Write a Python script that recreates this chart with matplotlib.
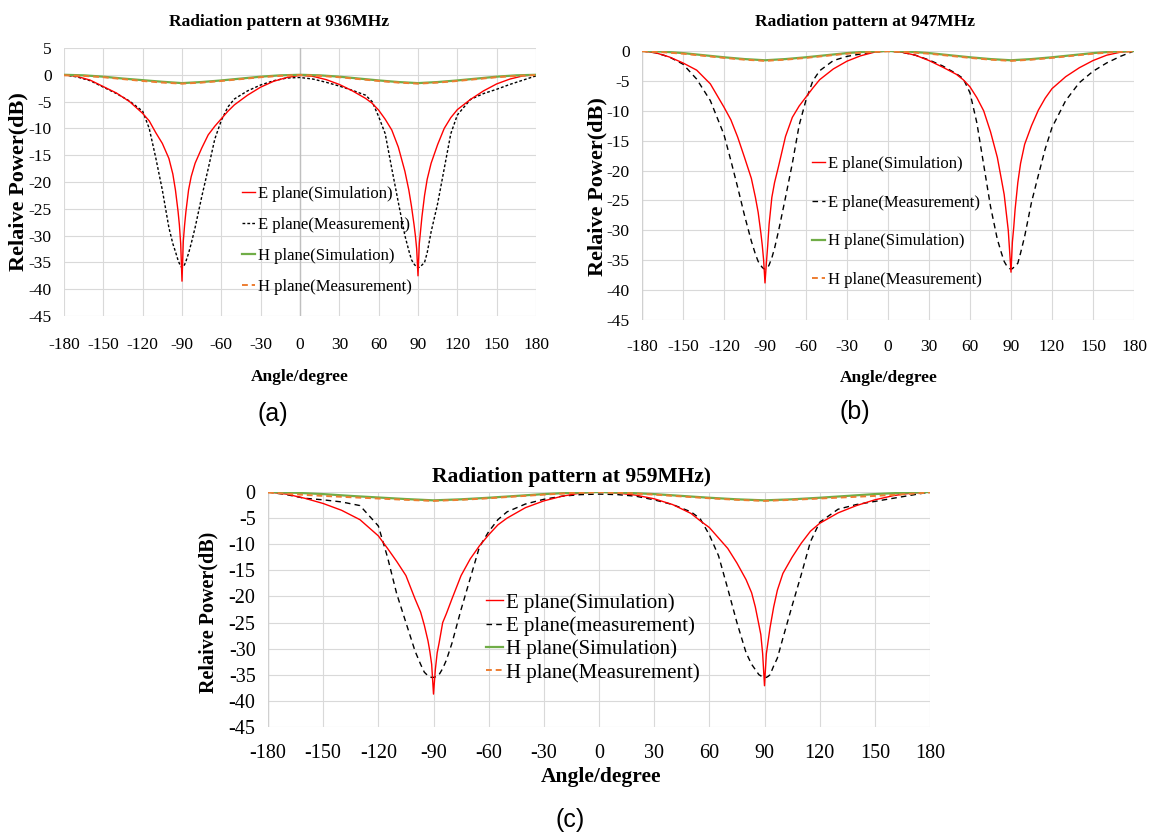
import matplotlib
matplotlib.use("Agg")
import matplotlib.pyplot as plt

plt.rcParams["axes.unicode_minus"] = False
plt.rcParams["font.family"] = ["Liberation Serif", "DejaVu Serif"]

# ---------------------------------------------------------------- data
ANGLES_E = [-180, -170, -160, -150, -140, -130, -120, -115, -110, -105, -100,
            -97, -95, -93, -92, -91, -90, -89, -88, -87, -85, -83, -80, -75,
            -70, -65, -60, -55, -50, -40, -30, -20, -10, 0, 10, 20, 30, 40,
            50, 55, 60, 65, 70, 75, 80, 83, 85, 87, 88, 89, 90, 91, 92, 93,
            95, 97, 100, 105, 110, 115, 120, 130, 140, 150, 160, 170, 180]

ANGLES_H = [-180, -165, -150, -135, -120, -105, -90, -75, -60, -45, -30, -15,
            0, 15, 30, 45, 60, 75, 90, 105, 120, 135, 150, 165, 180]

# 936 MHz
E_SIM_936 = [0, -0.3, -1.0, -2.2, -3.4, -5.0, -7.2, -8.6, -10.8, -12.8, -15.6,
             -18.5, -21.5, -25.5, -28.0, -31.5, -38.5, -31.0, -28.0, -25.5,
             -21.5, -19.0, -16.5, -13.7, -11.2, -9.6, -8.2, -6.8, -5.6, -3.8,
             -2.3, -1.2, -0.5, -0.1, -0.3, -0.9, -1.8, -3.0, -4.4, -5.3, -6.6,
             -8.3, -10.3, -13.5, -18.0, -21.5, -24.5, -28.0, -30.0, -32.5,
             -37.5, -31.5, -29.0, -26.5, -22.5, -19.5, -16.5, -13.0, -10.0,
             -8.0, -6.5, -4.6, -3.0, -1.7, -0.8, -0.2, 0]
E_MEAS_936 = [0, -0.4, -1.1, -2.3, -3.5, -4.9, -6.8, -10.0, -15.5, -21.5,
              -28.5, -31.5, -33.0, -34.6, -35.2, -35.7, -36.0, -35.8, -35.4,
              -34.8, -33.3, -31.5, -28.5, -22.8, -17.5, -12.0, -8.5, -6.0,
              -4.5, -3.0, -1.9, -1.1, -0.6, -0.5, -0.8, -1.4, -2.1, -2.9,
              -3.8, -5.0, -7.8, -11.0, -17.5, -23.8, -30.0, -32.8, -34.5,
              -35.3, -35.6, -35.9, -36.0, -35.9, -35.7, -35.5, -35.0, -33.2,
              -29.3, -24.0, -17.5, -11.0, -7.5, -4.6, -3.5, -2.7, -1.8, -1.0,
              -0.2]
H_SIM_936 = [0, -0.1, -0.35, -0.7, -1.0, -1.3, -1.55, -1.35, -1.05, -0.7,
             -0.35, -0.1, 0.0, -0.1, -0.35, -0.7, -1.05, -1.35, -1.55, -1.35,
             -1.05, -0.7, -0.35, -0.1, 0.0]
H_MEAS_936 = [-0.1, -0.2, -0.45, -0.8, -1.15, -1.45, -1.65, -1.45, -1.15,
              -0.8, -0.45, -0.2, -0.05, -0.2, -0.45, -0.8, -1.15, -1.45,
              -1.65, -1.45, -1.15, -0.8, -0.45, -0.2, -0.05]

# 947 MHz
E_SIM_947 = [0, -0.3, -1.0, -2.0, -3.2, -5.5, -9.4, -11.5, -14.4, -17.8,
             -21.3, -24.5, -27.0, -30.5, -32.5, -35.0, -38.8, -35.5, -32.5,
             -29.0, -24.5, -22.0, -19.2, -14.3, -11.1, -9.2, -7.7, -6.2, -4.8,
             -3.0, -1.7, -0.8, -0.2, 0.0, -0.2, -0.7, -1.6, -2.7, -3.9, -4.8,
             -6.0, -7.8, -10.0, -13.5, -17.8, -21.5, -24.0, -28.0, -30.0,
             -33.5, -37.0, -32.0, -29.5, -26.5, -22.0, -18.8, -15.6, -12.5,
             -9.9, -7.9, -6.3, -4.3, -2.8, -1.6, -0.7, -0.2, 0]
E_MEAS_947 = [0, -0.3, -1.0, -2.2, -4.7, -8.3, -14.0, -18.3, -22.8, -27.5,
              -31.8, -34.0, -35.2, -35.9, -36.2, -36.4, -36.5, -36.4, -36.2,
              -35.8, -34.6, -33.0, -30.0, -24.5, -18.8, -12.4, -8.2, -5.0,
              -3.3, -1.6, -0.9, -0.5, -0.2, 0.0, -0.2, -0.7, -1.5, -2.5, -3.8,
              -4.6, -7.0, -12.0, -19.0, -26.0, -31.5, -33.8, -35.2, -36.0,
              -36.2, -36.4, -36.5, -36.4, -36.2, -36.0, -35.5, -33.8, -31.0,
              -25.3, -20.8, -16.4, -12.8, -8.3, -5.3, -3.4, -2.0, -0.9, 0]
H_SIM_947 = [0, -0.1, -0.35, -0.7, -1.05, -1.35, -1.55, -1.35, -1.05, -0.7,
             -0.35, -0.1, 0.0, -0.1, -0.35, -0.7, -1.05, -1.35, -1.55, -1.35,
             -1.05, -0.7, -0.35, -0.1, 0.0]
H_MEAS_947 = [-0.05, -0.2, -0.45, -0.8, -1.15, -1.45, -1.65, -1.45, -1.15,
              -0.8, -0.45, -0.2, -0.05, -0.2, -0.45, -0.8, -1.15, -1.45,
              -1.65, -1.45, -1.15, -0.8, -0.45, -0.2, -0.05]

# 959 MHz
E_SIM_959 = [0, -0.4, -1.2, -2.2, -3.5, -5.3, -8.4, -10.8, -13.3, -16.0,
             -20.5, -23.0, -25.5, -28.5, -30.5, -33.0, -38.7, -34.0, -30.8,
             -29.0, -25.0, -23.3, -20.5, -16.0, -12.8, -10.3, -8.2, -6.3,
             -5.0, -3.0, -1.7, -0.8, -0.2, 0.0, -0.2, -0.6, -1.3, -2.4, -4.1,
             -5.5, -6.8, -8.8, -10.8, -13.6, -16.8, -19.3, -22.0, -25.5,
             -27.3, -31.0, -37.1, -31.0, -28.5, -26.0, -22.0, -18.8, -15.6,
             -12.5, -9.8, -7.5, -6.0, -4.0, -2.6, -1.5, -0.7, -0.2, 0]
E_MEAS_959 = [0, -0.5, -1.2, -1.5, -1.9, -2.6, -6.5, -12.5, -19.5, -25.0,
              -30.5, -33.0, -34.5, -35.2, -35.4, -35.5, -35.5, -35.4, -35.2,
              -35.0, -33.8, -32.2, -29.0, -22.5, -16.5, -10.5, -7.6, -5.3,
              -3.8, -2.3, -1.4, -0.8, -0.5, -0.4, -0.5, -0.8, -1.5, -2.4,
              -3.8, -5.1, -8.2, -12.2, -18.5, -25.0, -30.8, -33.0, -34.0,
              -35.0, -35.2, -35.4, -35.5, -35.5, -35.3, -35.0, -33.3, -31.8,
              -28.0, -21.8, -15.8, -9.5, -5.8, -3.3, -2.4, -1.8, -1.2, -0.6, 0]
H_SIM_959 = [0, -0.15, -0.4, -0.75, -1.05, -1.35, -1.6, -1.4, -1.1, -0.75,
             -0.4, -0.15, 0.0, -0.15, -0.4, -0.75, -1.1, -1.4, -1.6, -1.4,
             -1.1, -0.75, -0.4, -0.15, 0.0]
H_MEAS_959 = [-0.1, -0.45, -0.75, -1.0, -1.25, -1.5, -1.7, -1.5, -1.2, -0.85,
              -0.5, -0.2, -0.05, -0.2, -0.5, -0.85, -1.2, -1.5, -1.7, -1.5,
              -1.25, -1.0, -0.75, -0.45, -0.1]

X_TICKS = list(range(-180, 181, 30))
LEGEND_LABELS_AB = ["E plane(Simulation)", "E plane(Measurement)",
                    "H plane(Simulation)", "H plane(Measurement)"]
LEGEND_LABELS_C = ["E plane(Simulation)", "E plane(measurement)",
                   "H plane(Simulation)", "H plane(Measurement)"]

# ---------------------------------------------------------------- figure
W, H = 1154, 834
fig = plt.figure(figsize=(W / 100, H / 100), dpi=100)
fig.patch.set_facecolor("white")

SERIF = ["Liberation Serif", "DejaVu Serif"]
SANS = ["Liberation Sans", "DejaVu Sans"]
GRID = "#d9d9d9"


def fx(px):
    return px / W


def fy(py):
    return 1 - py / H


def make_panel(box, ylim, yticks, e_sim, e_meas, h_sim, h_meas, labels,
               meas_dash, title, title_xy, xlabel_xy, ylabel_xy, letter,
               letter_xy, leg_xy, leg_spacing, xpad, zero_axis, sizes):
    tick_fs, title_fs, xlab_fs, ylab_fs, leg_fs = sizes
    x0, x1, ytop, ybot = box
    ax = fig.add_axes([fx(x0), fy(ybot), (x1 - x0) / W, (ybot - ytop) / H])
    ax.set_xlim(-180, 180)
    ax.set_ylim(*ylim)
    ax.set_xticks(X_TICKS)
    ax.set_yticks(yticks)
    ax.set_xticklabels([str(t) for t in X_TICKS], family=SERIF,
                       fontsize=tick_fs)
    ax.set_yticklabels([str(t) for t in yticks], family=SERIF,
                       fontsize=tick_fs)
    ax.tick_params(length=0)
    ax.tick_params(axis="x", pad=xpad)
    ax.tick_params(axis="y", pad=9)
    for s in ax.spines.values():
        s.set_visible(False)
    ax.grid(True, color=GRID, lw=0.8)
    ax.set_axisbelow(True)
    if zero_axis:
        ax.axvline(0, color="#bfbfbf", lw=1.0, zorder=1)
    else:
        ax.axvline(-180, color="#d0d0d0", lw=1.0, zorder=1)

    l1, = ax.plot(ANGLES_E, e_sim, color="#ff0000", lw=1.0, zorder=4,
                  solid_joinstyle="round")
    l2, = ax.plot(ANGLES_E, e_meas, color="black", lw=1.0, zorder=3,
                  dashes=meas_dash)
    l3, = ax.plot(ANGLES_H, h_sim, color="#70ad47", lw=1.6, zorder=5)
    l4, = ax.plot(ANGLES_H, h_meas, color="#ed7d31", lw=1.4, zorder=6,
                  dashes=(3, 2))

    ax.legend([l1, l2, l3, l4], labels, loc="upper left",
              bbox_to_anchor=(fx(leg_xy[0]), fy(leg_xy[1])),
              bbox_transform=fig.transFigure, frameon=False,
              prop={"family": SERIF, "size": leg_fs}, handlelength=0.8,
              handletextpad=0.15, labelspacing=leg_spacing, borderpad=0,
              borderaxespad=0)

    fig.text(fx(title_xy[0]), fy(title_xy[1]), title, family=SERIF,
             fontweight="bold", fontsize=title_fs, ha="center", va="center")
    fig.text(fx(xlabel_xy[0]), fy(xlabel_xy[1]), "Angle/degree",
             family=SERIF, fontweight="bold", fontsize=xlab_fs, ha="center",
             va="center")
    fig.text(fx(ylabel_xy[0]), fy(ylabel_xy[1]), "Relaive Power(dB)",
             family=SERIF, fontweight="bold", fontsize=ylab_fs, ha="center",
             va="center", rotation=90)
    fig.text(fx(letter_xy[0]), fy(letter_xy[1]), letter, family=SANS,
             fontsize=18, ha="center", va="center")
    return ax


SIZES_AB = (12.5, 12.5, 12.5, 16, 12)
SIZES_C = (14.5, 15.5, 15.5, 14.5, 15)

make_panel((64, 536, 48, 316), (-45, 5), list(range(5, -46, -5)),
           E_SIM_936, E_MEAS_936, H_SIM_936, H_MEAS_936, LEGEND_LABELS_AB,
           (2, 1.5), "Radiation pattern at 936MHz", (279, 22), (300, 377),
           (18, 182), "(a)", (273, 414), (242, 186), 0.9, 15, True, SIZES_AB)

make_panel((642, 1134, 51, 320), (-45, 0), list(range(0, -46, -5)),
           E_SIM_947, E_MEAS_947, H_SIM_947, H_MEAS_947, LEGEND_LABELS_AB,
           (4, 3), "Radiation pattern at 947MHz", (865, 22), (889, 378),
           (597, 187), "(b)", (855, 412), (812, 156), 1.36, 14, False,
           SIZES_AB)

make_panel((268, 930, 492, 727), (-45, 0), list(range(0, -46, -5)),
           E_SIM_959, E_MEAS_959, H_SIM_959, H_MEAS_959, LEGEND_LABELS_C,
           (4, 3), "Radiation pattern at 959MHz)", (572, 477), (601, 777),
           (208, 612), "(c)", (570, 820), (486, 593), 0.17, 12, False,
           SIZES_C)

fig.savefig("out.png", dpi=100, facecolor="white")
